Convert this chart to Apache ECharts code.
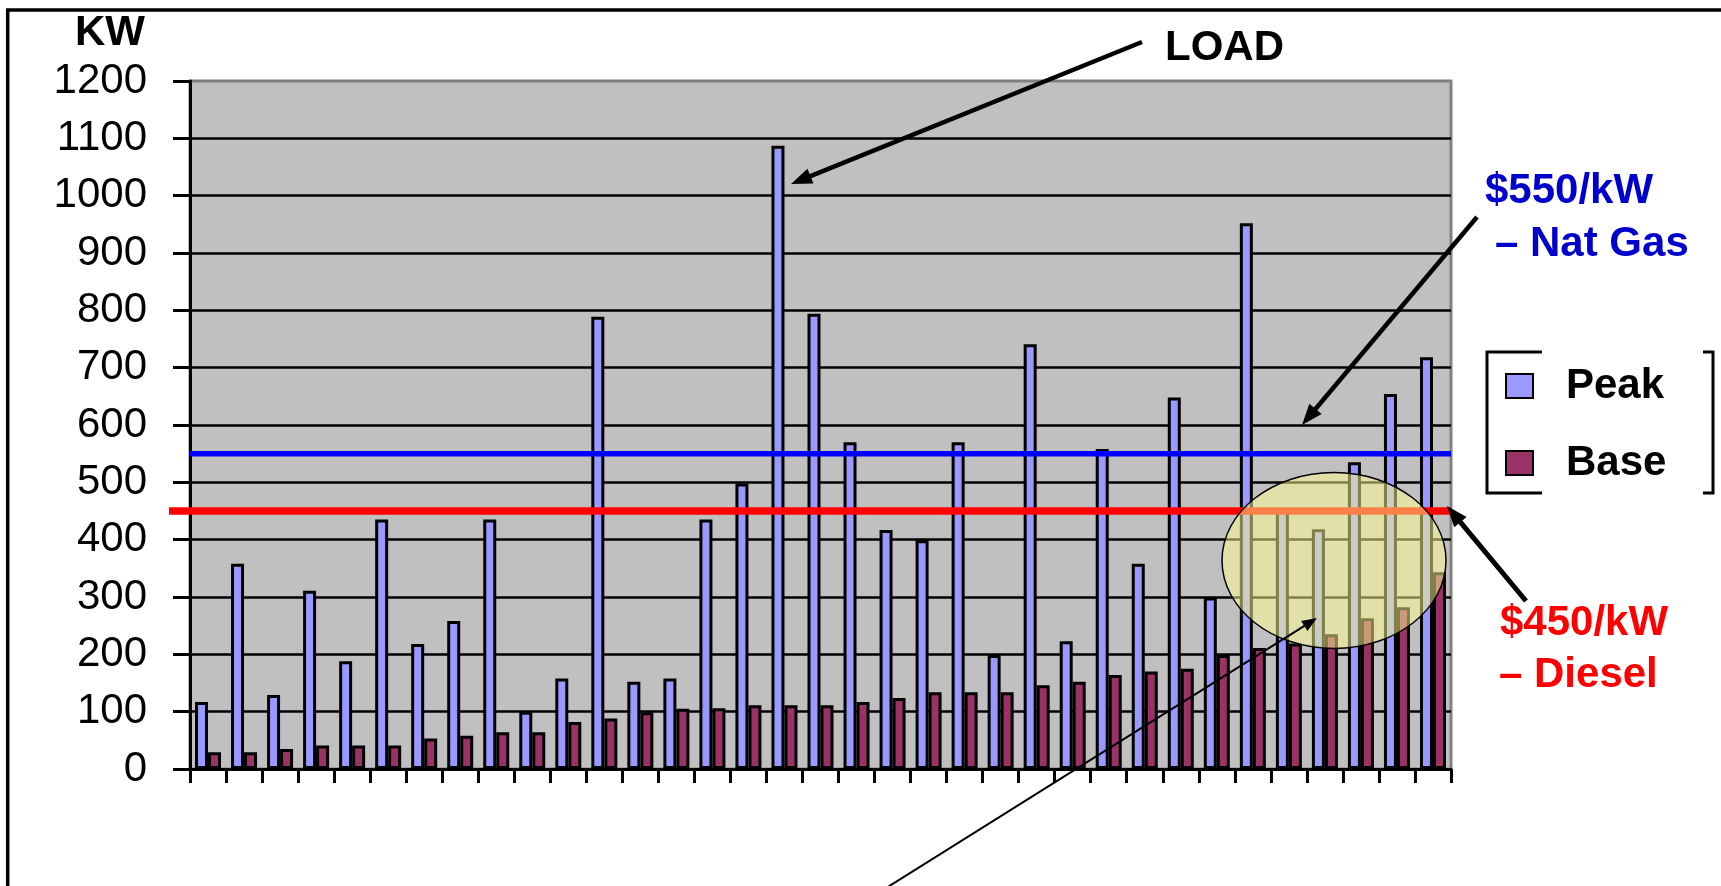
<!DOCTYPE html>
<html>
<head>
<meta charset="utf-8">
<title>Peak and Base Load</title>
<script src="https://cdn.jsdelivr.net/npm/echarts@6/dist/echarts.min.js"></script>
<style>
  html, body { margin: 0; padding: 0; background: #ffffff; }
  #chart { width: 1721px; height: 886px; }
</style>
</head>
<body>
<div id="chart"></div>
<script>
// Sites along the horizontal axis (labels are not shown)
const sites = ['1','2','3','4','5','6','7','8','9','10','11','12','13','14','15','16','17','18',
               '19','20','21','22','23','24','25','26','27','28','29','30','31','32','33','34','35'];

// Peak and base demand per site, kW
const peakKW = [117, 358, 129, 311, 188, 435, 218, 258, 435, 100, 158, 789, 152, 158, 435, 498, 1087, 794,
                570, 417, 399, 570, 199, 741, 223, 558, 358, 648, 299, 952, 453, 418, 535, 654, 718];
const baseKW = [29, 29, 35, 41, 41, 41, 53, 58, 64, 64, 82, 88, 99, 105, 106, 111, 111, 111,
                117, 124, 134, 134, 134, 146, 152, 164, 170, 175, 199, 211, 219, 235, 263, 282, 343];

// Value axis ticks
const yMin = 0, yMax = 1200, yStep = 100;

// Break-even capacity levels
const natGasLevel = 550;
const dieselLevel = 450;

const FONT = '"Liberation Sans", Arial, Helvetica, sans-serif';
const grid = { left: 190, top: 81, right: 1721 - 1451, bottom: 886 - 769 };
const plotRight = 1451;

const chart = echarts.init(document.getElementById('chart'), null, { renderer: 'canvas' });

chart.setOption({
  animation: false,
  backgroundColor: '#ffffff',
  textStyle: { fontFamily: FONT },
  grid: {
    left: grid.left, top: grid.top, right: grid.right, bottom: grid.bottom,
    show: true, backgroundColor: '#C0C0C0', borderColor: '#808080', borderWidth: 3
  },
  legend: {
    data: ['Peak', 'Base'],
    orient: 'vertical',
    left: 1505, top: 363, padding: 0,
    itemWidth: 27, itemHeight: 24, itemGap: 31,
    icon: 'rect',
    itemStyle: { borderColor: '#000', borderWidth: 2 },
    textStyle: { fontSize: 42, fontWeight: 'bold', color: '#000', fontFamily: FONT,
                 lineHeight: 46, padding: [0, 0, 0, 28] }
  },
  xAxis: {
    type: 'category',
    data: sites,
    boundaryGap: true,
    axisLine: { show: true, lineStyle: { color: '#000', width: 3 } },
    axisTick: { show: true, interval: 0, length: 14, lineStyle: { color: '#000', width: 3 } },
    axisLabel: { show: false },
    splitLine: { show: false }
  },
  yAxis: {
    type: 'value',
    min: yMin, max: yMax, interval: yStep,
    name: 'KW',
    nameLocation: 'end',
    nameGap: 48,
    nameTextStyle: { fontSize: 42, fontWeight: 'bold', color: '#000', fontFamily: FONT,
                     align: 'right', verticalAlign: 'middle', padding: [0, 45, 0, 0] },
    axisLine: { show: true, lineStyle: { color: '#000', width: 3 } },
    axisTick: { show: true, length: 17, lineStyle: { color: '#000', width: 3 } },
    axisLabel: { fontSize: 42, color: '#000', fontFamily: FONT, margin: 43,
                 formatter: function (v) { return String(v); } },
    splitLine: { show: true, showMinLine: false, showMaxLine: false,
                 lineStyle: { color: '#000', width: 2.5 } }
  },
  series: [
    {
      name: 'Peak', type: 'bar', data: peakKW,
      barWidth: 13, barGap: '0%',
      itemStyle: { color: '#9999FF', borderColor: '#000', borderWidth: 3 }
    },
    {
      name: 'Base', type: 'bar', data: baseKW,
      barWidth: 13, barGap: '0%',
      itemStyle: { color: '#993366', borderColor: '#000', borderWidth: 3 }
    }
  ]
});

// Straight arrow: shaft plus a filled triangular head at (x2, y2)
function arrow(x1, y1, x2, y2, width, headLen, headHalf, z) {
  const dx = x2 - x1, dy = y2 - y1, L = Math.hypot(dx, dy);
  const ux = dx / L, uy = dy / L;
  const bx = x2 - ux * headLen, by = y2 - uy * headLen;
  return [
    { type: 'line', z: z, silent: true,
      shape: { x1: x1, y1: y1, x2: bx + ux * 2, y2: by + uy * 2 },
      style: { stroke: '#000', lineWidth: width } },
    { type: 'polygon', z: z, silent: true,
      shape: { points: [[x2, y2], [bx - uy * headHalf, by + ux * headHalf], [bx + uy * headHalf, by - ux * headHalf]] },
      style: { fill: '#000' } }
  ];
}

function label(text, x, y, color) {
  return { type: 'text', x: x, y: y, z: 60, silent: true,
           style: { text: text, fill: color, font: 'bold 42px ' + FONT, align: 'left', verticalAlign: 'middle' } };
}

const yGas = chart.convertToPixel({ yAxisIndex: 0 }, natGasLevel);
const yDiesel = chart.convertToPixel({ yAxisIndex: 0 }, dieselLevel);

const elements = [
  // outer frame of the figure
  { type: 'rect', z: 1, silent: true,
    shape: { x: 7.7, y: 10, width: 1800, height: 1000 },
    style: { fill: 'none', stroke: '#000', lineWidth: 3.5 } },

  // capacity level lines
  { type: 'line', z: 20, silent: true,
    shape: { x1: grid.left, y1: yGas, x2: plotRight, y2: yGas },
    style: { stroke: '#0000FF', lineWidth: 5.5 } },
  { type: 'line', z: 20, silent: true,
    shape: { x1: 169, y1: yDiesel, x2: plotRight, y2: yDiesel },
    style: { stroke: '#FF0000', lineWidth: 7.5 } },

  // highlight around the small sites near the right edge
  { type: 'ellipse', z: 30, silent: true,
    shape: { cx: 1334, cy: 560.5, rx: 112, ry: 88 },
    style: { fill: 'rgba(255,255,144,0.5)', stroke: '#000', lineWidth: 1.5 } },

  // legend frame (brackets)
  { type: 'polyline', z: 5, silent: true,
    shape: { points: [[1542, 352], [1487, 352], [1487, 493], [1542, 493]] },
    style: { fill: 'none', stroke: '#000', lineWidth: 3 } },
  { type: 'polyline', z: 5, silent: true,
    shape: { points: [[1703, 352], [1713, 352], [1713, 493], [1703, 493]] },
    style: { fill: 'none', stroke: '#000', lineWidth: 3 } },

  // annotation texts
  label('LOAD', 1165, 48, '#000'),
  label('$550/kW', 1485, 191, '#0000CC'),
  label('\u2013 Nat Gas', 1495, 244, '#0000CC'),
  label('$450/kW', 1500, 623, '#FF0000'),
  label('\u2013 Diesel', 1499, 675, '#FF0000')
]
  .concat(arrow(1142, 42, 791, 184, 4.5, 21, 8, 50))
  .concat(arrow(1477, 217, 1302, 425, 4.5, 21, 8, 50))
  .concat(arrow(1526, 601, 1447, 506, 5, 21, 8, 50))
  .concat(arrow(883, 890, 1317, 618, 2, 15, 6, 50));

chart.setOption({ graphic: { elements: elements } });
</script>
</body>
</html>
